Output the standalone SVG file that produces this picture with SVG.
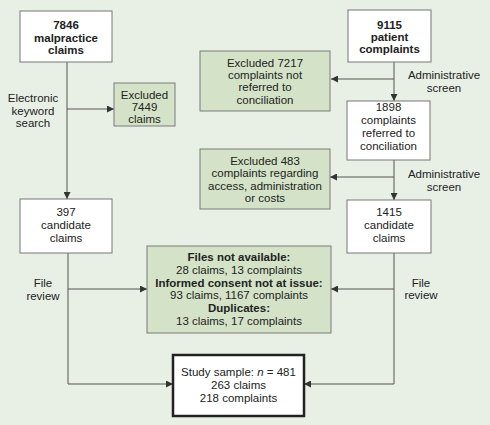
<svg xmlns="http://www.w3.org/2000/svg" width="490" height="425" viewBox="0 0 490 425">
<defs>
<marker id="ah" viewBox="0 0 10 10" refX="10" refY="5" markerWidth="7" markerHeight="7" markerUnits="userSpaceOnUse" orient="auto">
<path d="M0,0 L10,5 L0,10 z" fill="#333"/>
</marker>
</defs>
<style>
text{font-family:"Liberation Sans",Arial,sans-serif;font-size:11.5px;fill:#222;text-anchor:middle}
.b{font-weight:bold}
.w{fill:#fff;stroke:#777;stroke-width:1}
.g{fill:#d4e3c7;stroke:#7a7a7a;stroke-width:1}
.s{fill:#fff;stroke:#222;stroke-width:2.5}
.c{fill:none;stroke:#555;stroke-width:1}
.a{marker-end:url(#ah)}
</style>
<rect x="0" y="0" width="490" height="425" fill="#e8f0e6"/>
<g id="connectors">
<line class="c a" x1="67" y1="62" x2="67" y2="199"/>
<line class="c a" x1="67" y1="109" x2="114" y2="109"/>
<line class="c a" x1="394" y1="62" x2="394" y2="101"/>
<line class="c a" x1="394" y1="79" x2="331" y2="79"/>
<line class="c a" x1="394" y1="160" x2="394" y2="200"/>
<line class="c a" x1="394" y1="177" x2="330" y2="177"/>
<polyline class="c a" points="68,253 68,384 173,384"/>
<line class="c a" x1="68" y1="289" x2="147" y2="289"/>
<polyline class="c a" points="394,253 394,384 304,384"/>
<line class="c a" x1="394" y1="289" x2="331" y2="289"/>
</g>
<g id="labels">
<text x="33" y="102">Electronic</text>
<text x="33" y="115">keyword</text>
<text x="33" y="127">search</text>
<text x="444" y="79">Administrative</text>
<text x="444" y="92">screen</text>
<text x="444" y="178">Administrative</text>
<text x="444" y="191">screen</text>
<text x="43" y="287">File</text>
<text x="43" y="300">review</text>
<text x="421" y="287">File</text>
<text x="421" y="299">review</text>
</g>
<g id="malpractice">
<rect class="w" x="20" y="11" width="92" height="51"/>
<text class="b" x="66" y="29">7846</text>
<text class="b" x="66" y="42">malpractice</text>
<text class="b" x="66" y="54">claims</text>
</g>
<g id="excluded7449">
<rect class="g" x="114" y="83" width="61" height="43"/>
<text x="144.5" y="99">Excluded</text>
<text x="144.5" y="111">7449</text>
<text x="144.5" y="123">claims</text>
</g>
<g id="complaints">
<rect class="w" x="348" y="10" width="83" height="52"/>
<text class="b" x="389.5" y="29">9115</text>
<text class="b" x="389.5" y="41">patient</text>
<text class="b" x="389.5" y="53">complaints</text>
</g>
<g id="excluded7217">
<rect class="g" x="200" y="51" width="130" height="60"/>
<text x="265" y="67">Excluded 7217</text>
<text x="265" y="79">complaints not</text>
<text x="265" y="91">referred to</text>
<text x="265" y="104">conciliation</text>
</g>
<g id="referred">
<rect class="w" x="347" y="101" width="83" height="59"/>
<text x="388.5" y="111">1898</text>
<text x="388.5" y="124">complaints</text>
<text x="388.5" y="137">referred to</text>
<text x="388.5" y="150">conciliation</text>
</g>
<g id="excluded483">
<rect class="g" x="200" y="149" width="130" height="60"/>
<text x="265" y="165">Excluded 483</text>
<text x="265" y="177">complaints regarding</text>
<text x="265" y="190">access, administration</text>
<text x="265" y="202">or costs</text>
</g>
<g id="candidate397">
<rect class="w" x="20" y="199" width="92" height="54"/>
<text x="66" y="216">397</text>
<text x="66" y="229">candidate</text>
<text x="66" y="242">claims</text>
</g>
<g id="candidate1415">
<rect class="w" x="347" y="200" width="84" height="53"/>
<text x="389" y="216">1415</text>
<text x="389" y="229">candidate</text>
<text x="389" y="242">claims</text>
</g>
<g id="filereview">
<rect class="g" x="147" y="246" width="184" height="87"/>
<text class="b" x="239" y="261">Files not available:</text>
<text x="239" y="274">28 claims, 13 complaints</text>
<text class="b" x="239" y="287">Informed consent not at issue:</text>
<text x="239" y="299">93 claims, 1167 complaints</text>
<text class="b" x="239" y="312">Duplicates:</text>
<text x="239" y="325">13 claims, 17 complaints</text>
</g>
<g id="study">
<rect class="s" x="173" y="355" width="131" height="61"/>
<text x="238.5" y="376">Study sample: <tspan font-style="italic">n</tspan> = 481</text>
<text x="238.5" y="389">263 claims</text>
<text x="238.5" y="402">218 complaints</text>
</g>
</svg>
